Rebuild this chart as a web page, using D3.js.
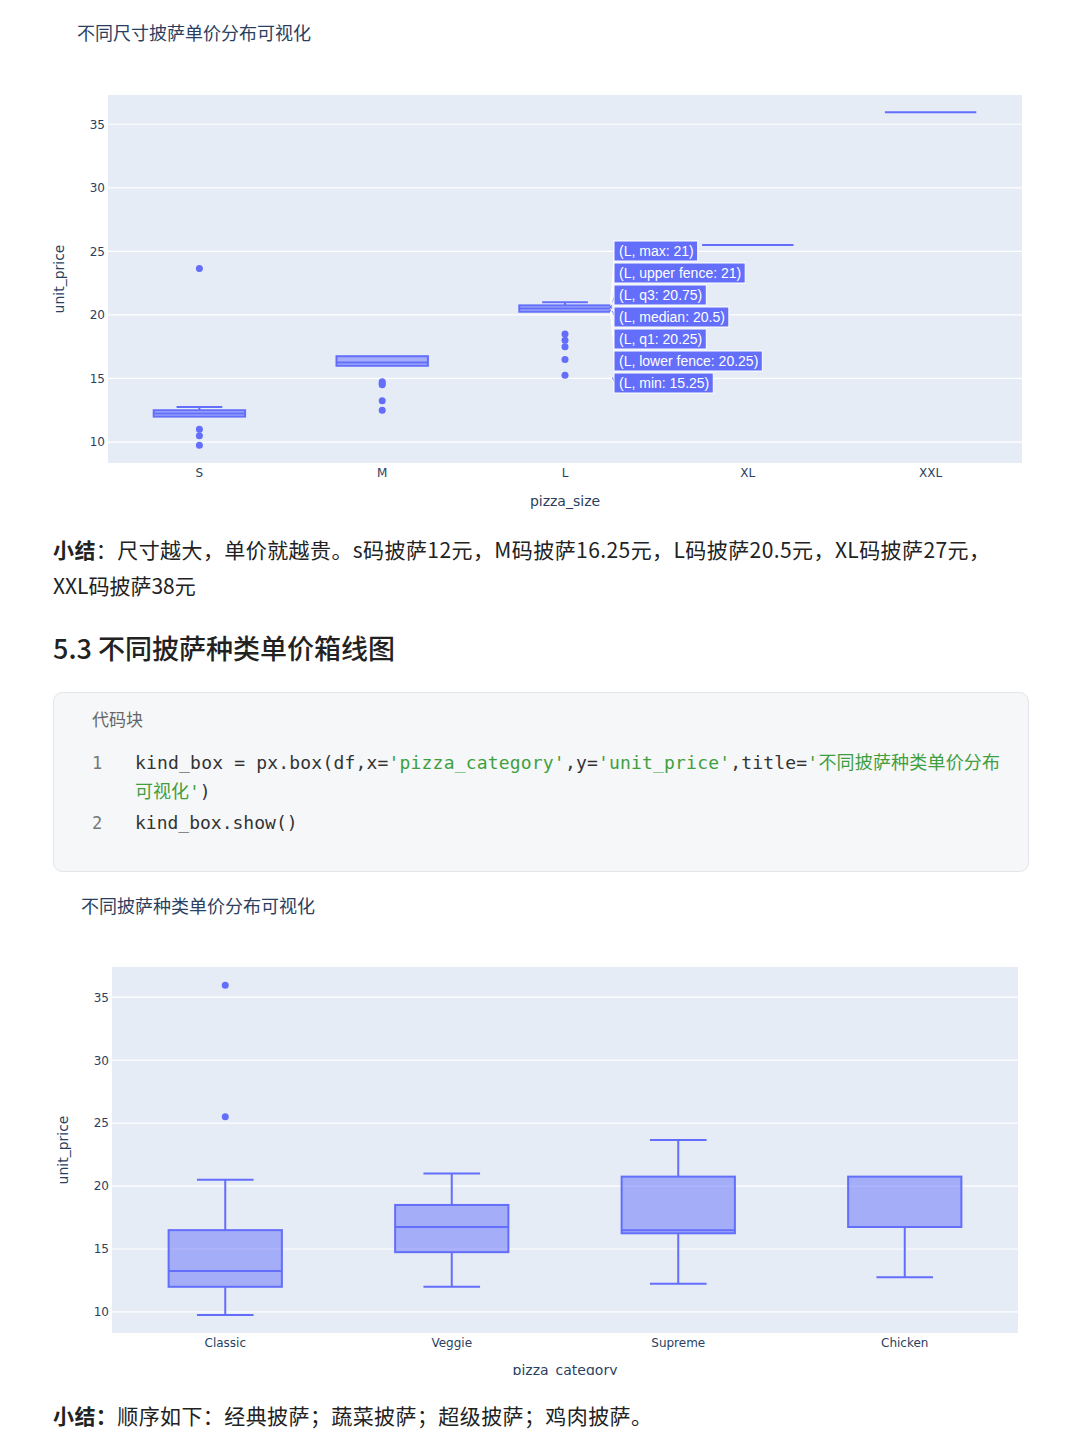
<!DOCTYPE html>
<html><head><meta charset="utf-8">
<script src="https://cdn.jsdelivr.net/npm/d3@7"></script>
<style>
body{margin:0;background:#fff;}
svg{display:block;}
</style></head>
<body>
<svg id="c" width="1080" height="1440"></svg>
<script>
// ---------- data ----------
const sizes = ["S","M","L","XL","XXL"];
const sizeQ1 = [12, 16, 20.25, 25.5, 35.95];
const sizeMedian = [12.25, 16.25, 20.5, 25.5, 35.95];
const sizeQ3 = [12.5, 16.75, 20.75, 25.5, 35.95];
const sizeLowerFence = [12, 16, 20.25, 25.5, 35.95];
const sizeUpperFence = [12.75, 16.75, 21, 25.5, 35.95];
const sizeOutliers = [[23.65, 11, 10.5, 9.75],[14.75, 14.6, 14.5, 13.25, 12.5],[18.5, 18, 17.5, 16.5, 15.25],[],[]];
const hoverLabels = ["(L, max: 21)","(L, upper fence: 21)","(L, q3: 20.75)","(L, median: 20.5)","(L, q1: 20.25)","(L, lower fence: 20.25)","(L, min: 15.25)"];
const hoverValues = [21, 21, 20.75, 20.5, 20.25, 20.25, 15.25];

const categories = ["Classic","Veggie","Supreme","Chicken"];
const catQ1 = [12, 14.75, 16.25, 16.75];
const catMedian = [13.25, 16.75, 16.5, 16.75];
const catQ3 = [16.5, 18.5, 20.75, 20.75];
const catLowerFence = [9.75, 12, 12.25, 12.75];
const catUpperFence = [20.5, 21, 23.65, 20.75];
const catOutliers = [[35.95, 25.5],[],[],[]];

const yTicks = [10, 15, 20, 25, 30, 35];

const summary1 = "尺寸越大，单价就越贵。s码披萨12元，M码披萨16.25元，L码披萨20.5元，XL码披萨27元，";
const summary2 = "XXL码披萨38元";
const heading = "5.3 不同披萨种类单价箱线图";
const summary3 = "顺序如下：经典披萨；蔬菜披萨；超级披萨；鸡肉披萨。";

// ---------- drawing ----------
const svg = d3.select("#c");
const BLUE = "#636efa";
const FONT = "'DejaVu Sans', Verdana, sans-serif";
const CJK = "'Noto Sans CJK SC', sans-serif";
const TXT = "#2a3f5f";

svg.append("defs").append("clipPath").attr("id","clipBottom")
  .append("rect").attr("x",0).attr("y",0).attr("width",1080).attr("height",1375);

function boxChart(opt){
  const g = svg.append("g");
  const x = d3.scaleBand().domain(opt.cats).range([opt.x0, opt.x1]);
  const y = d3.scaleLinear().domain(opt.ydom).range([opt.y1, opt.y0]);
  g.append("rect").attr("x",opt.x0).attr("y",opt.y0).attr("width",opt.x1-opt.x0).attr("height",opt.y1-opt.y0).attr("fill","#e5ecf6");
  g.selectAll(".grid").data(yTicks).enter().append("line")
    .attr("x1",opt.x0).attr("x2",opt.x1).attr("y1",d=>y(d)).attr("y2",d=>y(d))
    .attr("stroke","#fff").attr("stroke-width",1.2);
  const ya = d3.axisLeft(y).tickValues(yTicks).tickSize(0).tickPadding(opt.tickPad);
  const yg = g.append("g").attr("transform",`translate(${opt.x0},0)`).call(ya);
  yg.select(".domain").remove();
  yg.selectAll("text").attr("font-family",FONT).attr("font-size",12).attr("fill",TXT);
  const xa = d3.axisBottom(x).tickSize(0).tickPadding(5);
  const xg = g.append("g").attr("transform",`translate(0,${opt.y1})`).call(xa);
  xg.select(".domain").remove();
  xg.selectAll("text").attr("font-family",FONT).attr("font-size",12).attr("fill",TXT);
  svg.append("text").attr("x",opt.titleX).attr("y",opt.titleY).text(opt.title)
    .attr("font-family",CJK).attr("font-size",18).attr("fill",TXT);
  svg.append("text").attr("transform",`translate(${opt.ylabX},${(opt.y0+opt.y1)/2}) rotate(-90)`)
    .attr("text-anchor","middle").text("unit_price").attr("font-family",FONT).attr("font-size",14).attr("fill",TXT);
  const xl = svg.append("text").attr("x",(opt.x0+opt.x1)/2).attr("y",opt.xlabY).attr("text-anchor","middle")
    .text(opt.xlab).attr("font-family",FONT).attr("font-size",14).attr("fill",TXT);
  if(opt.clip) xl.attr("clip-path","url(#clipBottom)");

  const bw = x.bandwidth()*0.5;
  opt.cats.forEach((c,i)=>{
    const cx = x(c)+x.bandwidth()/2;
    const bg = g.append("g");
    const lf=opt.lf[i], uf=opt.uf[i], q1=opt.q1[i], q3=opt.q3[i], md=opt.md[i];
    bg.append("line").attr("x1",cx).attr("x2",cx).attr("y1",y(q3)).attr("y2",y(uf)).attr("stroke",BLUE).attr("stroke-width",2);
    bg.append("line").attr("x1",cx).attr("x2",cx).attr("y1",y(q1)).attr("y2",y(lf)).attr("stroke",BLUE).attr("stroke-width",2);
    if(uf>q3) bg.append("line").attr("x1",cx-bw/4).attr("x2",cx+bw/4).attr("y1",y(uf)).attr("y2",y(uf)).attr("stroke",BLUE).attr("stroke-width",2);
    if(lf<q1) bg.append("line").attr("x1",cx-bw/4).attr("x2",cx+bw/4).attr("y1",y(lf)).attr("y2",y(lf)).attr("stroke",BLUE).attr("stroke-width",2);
    bg.append("rect").attr("x",cx-bw/2).attr("y",y(q3)).attr("width",bw).attr("height",Math.max(0,y(q1)-y(q3)))
      .attr("fill","rgba(99,110,250,0.5)").attr("stroke",BLUE).attr("stroke-width",2);
    bg.append("line").attr("x1",cx-bw/2).attr("x2",cx+bw/2).attr("y1",y(md)).attr("y2",y(md)).attr("stroke",BLUE).attr("stroke-width",2);
    bg.selectAll("circle").data(opt.out[i]).enter().append("circle")
      .attr("cx",cx).attr("cy",d=>y(d)).attr("r",3.5).attr("fill",BLUE);
  });
  return {x,y,bw};
}

const sizeChart = boxChart({cats:sizes, x0:108, x1:1022, y0:95, y1:463, ydom:[8.35,37.3],
  q1:sizeQ1, md:sizeMedian, q3:sizeQ3, lf:sizeLowerFence, uf:sizeUpperFence, out:sizeOutliers,
  title:"不同尺寸披萨单价分布可视化", titleX:77, titleY:40, ylabX:64, xlab:"pizza_size", xlabY:506, tickPad:3});

// hover labels on L box
(function(){
  const cx = sizeChart.x("L")+sizeChart.x.bandwidth()/2;
  const ax = cx + sizeChart.bw/2;
  const lx = 614, ly0 = 251, step = 22;
  const hg = svg.append("g");
  hoverLabels.forEach((t,i)=>{
    const ly = ly0 + i*step;
    const ay = sizeChart.y(hoverValues[i]);
    hg.append("path").attr("d",`M${ax},${ay}L${lx+1},${ly-4}L${lx+1},${ly+4}Z`)
      .attr("fill",BLUE).attr("stroke","#fff").attr("stroke-width",1);
  });
  hoverLabels.forEach((t,i)=>{
    const ly = ly0 + i*step;
    const rect = hg.append("rect");
    const txt = hg.append("text").attr("x",lx+5).attr("y",ly+5).text(t)
      .attr("font-family","'Liberation Sans', Arial, sans-serif").attr("font-size",14).attr("fill","#fff");
    const w = txt.node().getComputedTextLength();
    rect.attr("x",lx).attr("y",ly-10).attr("width",w+9).attr("height",20)
      .attr("fill",BLUE).attr("stroke","#fff").attr("stroke-width",1);
  });
})();

boxChart({cats:categories, x0:112, x1:1018, y0:967, y1:1333, ydom:[8.33,37.4],
  q1:catQ1, md:catMedian, q3:catQ3, lf:catLowerFence, uf:catUpperFence, out:catOutliers,
  title:"不同披萨种类单价分布可视化", titleX:81, titleY:913, ylabX:68, xlab:"pizza_category", xlabY:1375, tickPad:3, clip:true});

// ---------- article text ----------
const t1 = svg.append("text").attr("x",53).attr("y",558).attr("font-family",CJK).attr("font-size",21).attr("fill","#222")
  .attr("textLength",937).attr("lengthAdjust","spacing");
t1.append("tspan").attr("font-weight","bold").text("小结");
t1.append("tspan").text("："+summary1);
svg.append("text").attr("x",53).attr("y",594).attr("font-family",CJK).attr("font-size",21).attr("fill","#222").text(summary2);
svg.append("text").attr("x",53).attr("y",659).attr("font-family",CJK).attr("font-size",27).attr("font-weight",500).attr("fill","#222").text(heading);

svg.append("rect").attr("x",53.5).attr("y",692.5).attr("width",975).attr("height",179).attr("rx",9)
  .attr("fill","#f6f7f9").attr("stroke","#e3e5e8");
svg.append("text").attr("x",92).attr("y",726).attr("font-family",CJK).attr("font-size",17).attr("fill","#666").text("代码块");
const MONO = "'DejaVu Sans Mono', 'Noto Sans CJK SC', monospace";
const GREEN = "#3f9f3f";
svg.append("text").attr("x",92).attr("y",769).attr("font-family",MONO).attr("font-size",17).attr("fill","#777").text("1");
svg.append("text").attr("x",92).attr("y",829).attr("font-family",MONO).attr("font-size",17).attr("fill","#777").text("2");
const c1 = svg.append("text").attr("x",135).attr("y",769).attr("font-family",MONO).attr("font-size",18).attr("fill","#333")
  .attr("textLength",865).attr("lengthAdjust","spacing");
[["kind_box = px.box(df,x=",null],["'pizza_category'",GREEN],[",y=",null],["'unit_price'",GREEN],[",title=",null],["'不同披萨种类单价分布",GREEN]]
  .forEach(([s,col])=>{const sp=c1.append("tspan").text(s); if(col) sp.attr("fill",col);});
const c2 = svg.append("text").attr("x",135).attr("y",798).attr("font-family",MONO).attr("font-size",18).attr("fill","#333");
c2.append("tspan").attr("fill",GREEN).text("可视化'");
c2.append("tspan").text(")");
svg.append("text").attr("x",135).attr("y",829).attr("font-family",MONO).attr("font-size",18).attr("fill","#333").text("kind_box.show()");

const t3 = svg.append("text").attr("x",53).attr("y",1424).attr("font-family",CJK).attr("font-size",21).attr("fill","#222")
  .attr("textLength",599).attr("lengthAdjust","spacing");
t3.append("tspan").attr("font-weight","bold").text("小结：");
t3.append("tspan").text(summary3);
</script>
</body></html>
